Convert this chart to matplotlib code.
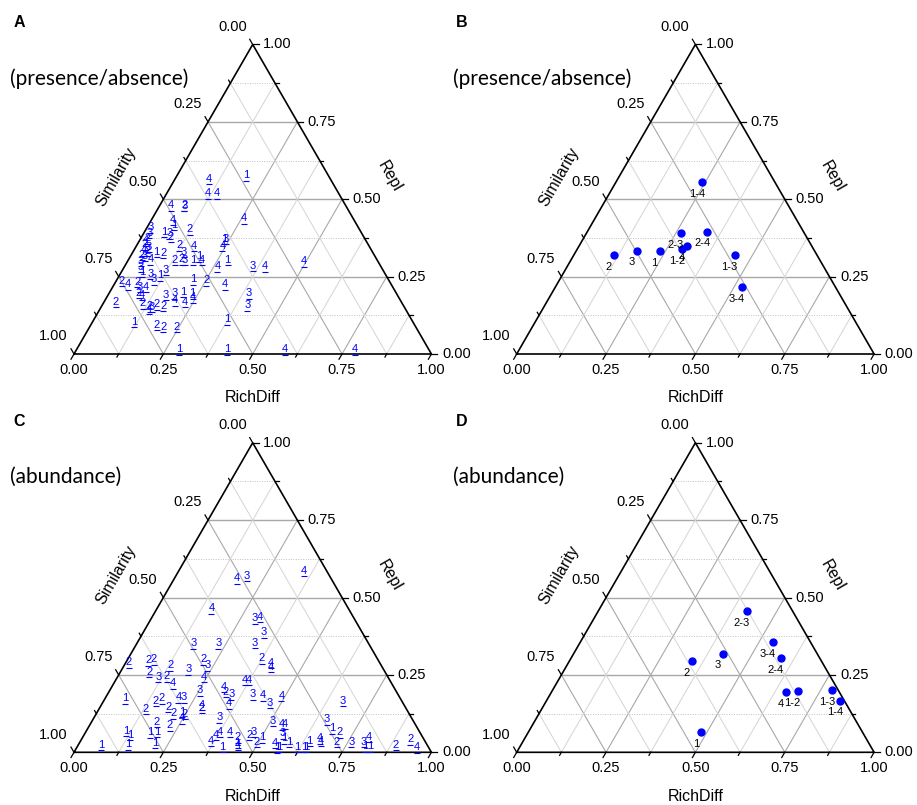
import numpy as np
import matplotlib.pyplot as plt

plt.rcParams['font.family'] = ['Liberation Sans', 'DejaVu Sans']

# A: presence/absence, per-site labels (RichDiff, Repl); Similarity = 1 - both
a_label = ['4', '1', '4', '4', '4', '2', '3', '4', '4', '1', '2', '1', '3', '2', '1', '3',
           '4', '2', '4', '3', '1', '4', '1', '2', '2', '3', '4', '1', '3', '4', '4', '1',
           '2', '4', '3', '3', '1', '1', '1', '4', '4', '3', '3', '2', '4', '2', '3', '4',
           '2', '1', '2', '2', '3', '4', '3', '3', '1', '3', '3', '1', '3', '2', '4', '2',
           '3', '4', '2', '4', '3', '3', '1', '4', '4', '4', '1', '2', '2', '2', '4', '3',
           '2', '2', '1', '2', '2', '2']
a_richdiff = [.095, .192, .116, .141, .030, .068, .069, .257, .061, .072, .123, .054, .072, .082,
              .233, .238, .241, .118, .160, .143, .192, .206, .182, .130, .148, .159, .259, .278,
              .358, .393, .493, .213, .251, .309, .392, .406, .373, .286, .421, .582, .779, .009,
              .015, .018, .017, .021, .035, .026, .038, .066, .086, .029, .040, .061, .037, .046,
              .057, .084, .103, .113, .121, .015, .037, .060, .076, .093, .083, .093, .162, .183,
              .204, .195, .226, .242, .234, .033, .110, .135, .137, .141, .151, .172, .116, .184,
              .206, .243]
a_repl = [.567, .578, .519, .519, .481, .481, .479, .438, .433, .417, .403, .395, .390, .379,
          .372, .372, .349, .352, .349, .330, .316, .304, .304, .304, .306, .304, .284, .304,
          .285, .284, .300, .241, .239, .226, .196, .158, .112, .016, .016, .016, .016, .409,
          .392, .374, .368, .355, .347, .336, .334, .330, .327, .320, .318, .306, .301, .282,
          .265, .260, .241, .255, .273, .237, .226, .234, .217, .217, .198, .192, .191, .196,
          .201, .174, .169, .183, .196, .169, .164, .155, .147, .153, .161, .156, .104, .094,
          .088, .088]

# C: abundance, per-site labels
c_label = ['4', '3', '4', '4', '3', '4', '3', '3', '3', '3', '2', '2', '2', '2', '3', '2',
           '3', '2', '4', '4', '2', '3', '2', '4', '4', '4', '4', '3', '4', '2', '3', '3',
           '4', '3', '4', '4', '1', '2', '2', '4', '3', '2', '2', '2', '1', '2', '4', '4',
           '2', '3', '3', '3', '4', '4', '3', '1', '2', '2', '2', '1', '1', '1', '1', '4',
           '4', '4', '2', '2', '3', '1', '2', '3', '1', '1', '4', '1', '4', '1', '4', '1',
           '1', '1', '1', '1', '1', '4', '4', '2', '3', '3', '4', '1', '1', '2', '2', '4',
           '1', '1', '1']
c_richdiff = [.174, .198, .350, .152, .290, .301, .337, .158, .228, .329, .007, .059, .074,
              .129, .186, .212, .232, .374, .406, .412, .081, .114, .136, .166, .241, .361,
              .373, .252, .313, .326, .347, .406, .437, .468, .489, .354, .056, .146, .158,
              .203, .219, .190, .131, .215, .236, .248, .246, .281, .285, .670, .350, .506,
              .537, .543, .653, .684, .711, .182, .224, .110, .130, .182, .198, .375, .369,
              .403, .435, .462, .470, .503, .494, .554, .566, .585, .363, .407, .446, .442,
              .546, .565, .561, .615, .635, .641, .641, .665, .672, .719, .759, .794, .800,
              .804, .818, .888, .920, .952, .063, .139, .211]
c_repl = [.562, .571, .587, .465, .433, .438, .388, .352, .352, .354, .291, .298, .300, .282,
          .268, .300, .282, .304, .290, .277, .260, .244, .246, .223, .244, .234, .234, .201,
          .212, .196, .187, .187, .185, .160, .183, .158, .174, .167, .174, .178, .178, .147,
          .140, .126, .131, .124, .110, .153, .144, .166, .113, .102, .091, .093, .107, .078,
          .065, .099, .088, .070, .056, .064, .067, .067, .056, .067, .048, .056, .067, .048,
          .034, .061, .045, .034, .038, .018, .024, .031, .031, .018, .016, .018, .018, .018,
          .037, .045, .038, .034, .034, .034, .051, .020, .020, .024, .042, .016, .024, .026,
          .031]

# B and D: group means / pairwise comparisons
pair_label = ['1', '2', '3', '4', '1-2', '1-3', '1-4', '2-3', '2-4', '3-4']
b_richdiff = [.234, .112, .169, .302, .294, .450, .242, .265, .336, .521]
b_repl = [.332, .320, .334, .349, .338, .320, .555, .391, .395, .216]
d_richdiff = [.484, .344, .417, .656, .687, .782, .821, .417, .587, .540]
d_repl = [.064, .294, .319, .195, .198, .201, .167, .455, .304, .355]

ticks = [0.0, 0.25, 0.5, 0.75, 1.0]
minor = [0.125, 0.375, 0.625, 0.875]

W, H = 917, 805
S = 357.4
R3 = np.sqrt(3) / 2
BLUE = '#0000ff'

fig = plt.figure(figsize=(W / 100, H / 100), dpi=100)


def tern(rd, rp):
    rd = np.asarray(rd, dtype=float)
    rp = np.asarray(rp, dtype=float)
    return rd + rp / 2, rp * R3


def make_ax(ox, oy):
    x0, x1, y0, y1 = -0.2, 1.22, -0.17, 0.99
    left = ox + x0 * S
    top = oy - y1 * S
    ax = fig.add_axes([left / W, 1 - (top + (y1 - y0) * S) / H,
                       (x1 - x0) * S / W, (y1 - y0) * S / H])
    ax.set_xlim(x0, x1)
    ax.set_ylim(y0, y1)
    ax.axis('off')
    return ax


def draw_frame(ax):
    major_h = dict(color='#a8a8a8', lw=1.0, ls='-')
    major_d = dict(color='#a8a8a8', lw=0.8, ls='-')
    minor_h = dict(color='#c0c0c0', lw=0.7, ls=(0, (1, 1.5)))
    minor_d = dict(color='#d4d4d4', lw=0.7, ls='-')
    for vals, sh, sd in ((ticks[1:-1], major_h, major_d), (minor, minor_h, minor_d)):
        for v in vals:
            x, y = tern([0, 1 - v], [v, v])
            ax.plot(x, y, zorder=1, **sh)
            x, y = tern([v, v], [0, 1 - v])
            ax.plot(x, y, zorder=1, **sd)
            x, y = tern([1 - v, 0], [0, 1 - v])
            ax.plot(x, y, zorder=1, **sd)
    x, y = tern([0, 1, 0, 0], [0, 0, 1, 0])
    ax.plot(x, y, color='black', lw=1.2, zorder=2, solid_joinstyle='miter')

    for v in ticks + minor:
        L = (6 if v in ticks else 3.5) / S
        # bottom: RichDiff
        x, y = tern(v, 0)
        ax.plot([x, x - 0.5 * L], [y, y - R3 * L], color='black', lw=0.9)
        # right: Repl
        x, y = tern(1 - v, v)
        ax.plot([x, x + L], [y, y], color='black', lw=0.9)
        # left: Similarity
        x, y = tern(0, 1 - v)
        ax.plot([x, x - 0.5 * L], [y, y + R3 * L], color='black', lw=0.9)

    for v in ticks:
        x, y = tern(v, 0)
        ax.text(x, y - 16 / S, f'{v:.2f}', ha='center', va='center', fontsize=10.5)
        x, y = tern(1 - v, v)
        ax.text(x + 10.5 / S, y, f'{v:.2f}', ha='left', va='center', fontsize=10.5)
        x, y = tern(0, 1 - v)
        ax.text(x - 20.4 / S, y + 17.7 / S, f'{v:.2f}', ha='center', va='center',
                fontsize=10.5)

    ax.text(0.5, -44 / S, 'RichDiff', ha='center', va='center', fontsize=11.5)
    ax.text(0.1175, 0.496, 'Similarity', ha='center', va='center', fontsize=11.5,
            rotation=60)
    ax.text(0.884, 0.496, 'Repl', ha='center', va='center', fontsize=11.5,
            rotation=-60)


def draw_labels(ax, labels, rd, rp):
    x, y = tern(rd, rp)
    for xi, yi, lab in zip(x, y, labels):
        ax.text(xi, yi, lab, ha='center', va='center', color=BLUE, fontsize=8, zorder=4)
    ax.plot(x, y - 5.5 / S, ls='none', marker='_', ms=5, mew=0.8, color=BLUE, zorder=4)


def draw_points(ax, labels, rd, rp):
    x, y = tern(rd, rp)
    ax.plot(x, y, ls='none', marker='o', ms=5, color=BLUE, zorder=4)
    for xi, yi, lab in zip(x, y, labels):
        ax.annotate(lab, (xi, yi), xytext=(-3.8, -8.4), textcoords='offset points',
                    ha='center', va='center', fontsize=8, zorder=5)


panels = [
    ('A', '(presence/absence)', 74.0, 354.0),
    ('B', '(presence/absence)', 516.7, 354.0),
    ('C', '(abundance)', 74.0, 752.3),
    ('D', '(abundance)', 516.7, 752.3),
]
axes = {}
for letter, sub, ox, oy in panels:
    ax = make_ax(ox, oy)
    draw_frame(ax)
    axes[letter] = ax
    top = oy - 354.0
    fig.text((ox - 54.7) / W, 1 - (top + 22.7) / H, letter, ha='center', va='center',
             fontsize=11.5, fontweight='bold')
    fig.text((ox - 64) / W, 1 - (top + 78.3) / H, sub, ha='left', va='center',
             fontsize=15, family=['Lato', 'DejaVu Sans'])

draw_labels(axes['A'], a_label, a_richdiff, a_repl)
draw_points(axes['B'], pair_label, b_richdiff, b_repl)
draw_labels(axes['C'], c_label, c_richdiff, c_repl)
draw_points(axes['D'], pair_label, d_richdiff, d_repl)

fig.savefig('out.png', dpi=100)
